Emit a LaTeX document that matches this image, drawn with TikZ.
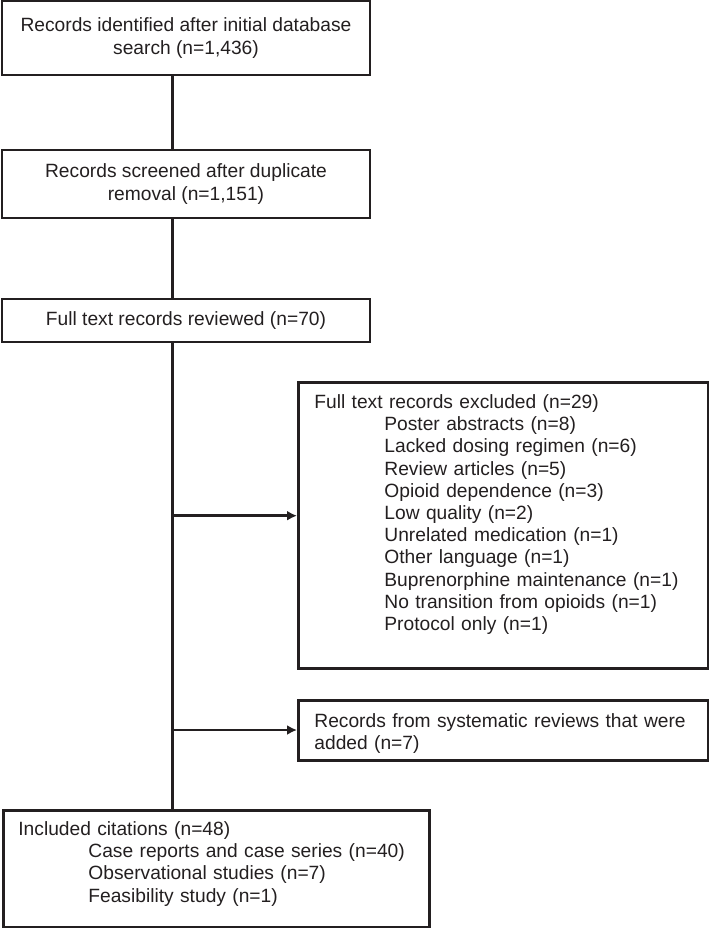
\documentclass[tikz,border=0pt]{standalone}
\usepackage{fontspec}
\setmainfont{Liberation Sans}
\usetikzlibrary{arrows.meta}
\definecolor{encre}{HTML}{231F20}
\newcommand{\retrait}{\hspace*{52.5pt}}
\tikzset{
  boite/.style = {rectangle, draw=encre, text=encre, line width=2.1pt,
    inner sep=0pt, font=\fontsize{14.4pt}{16.65pt}\selectfont},% cadre commun
  boite_c/.style = {boite, align=center, minimum width=276pt},% texte centre
  boite_g/.style = {boite, align=left, anchor=north west,
    inner xsep=12pt, text width=283.5pt},% texte a gauche
  lien/.style = {draw=encre, line width=2.1pt}% traits de liaison
}

\begin{document}
\begin{tikzpicture}[x=0.75pt, y=-0.75pt, >={Latex[length=7.5pt,width=7.5pt]}]
\useasboundingbox (0,0) rectangle (709,928);
\node [boite_c, minimum height=55.5pt] (ident) at (186,38)
  {Records identified after initial database\\search (n=1,436)};
\node [boite_c, minimum height=51pt] (tri) at (186,184)
  {Records screened after duplicate\\removal (n=1,151)};
\node [boite_c, minimum height=32.25pt] (lu) at (186,320.5)
  {Full text records reviewed (n=70)};
\node [boite_g, text height=19.5pt, text depth=195pt] (exclu) at (297,381)
  {Full text records excluded (n=29)\\
   \retrait Poster abstracts (n=8)\\
   \retrait Lacked dosing regimen (n=6)\\
   \retrait Review articles (n=5)\\
   \retrait Opioid dependence (n=3)\\
   \retrait Low quality (n=2)\\
   \retrait Unrelated medication (n=1)\\
   \retrait Other language (n=1)\\
   \retrait Buprenorphine maintenance (n=1)\\
   \retrait No transition from opioids (n=1)\\
   \retrait Protocol only (n=1)};
\node [boite_g, text height=20.25pt, text depth=24.75pt] (ajout) at (297,699)
  {Records from systematic reviews that were\\added (n=7)};
\node [boite_g, inner xsep=11.25pt, text width=297pt,
  text height=18.75pt, text depth=69pt] (inclus) at (2,809)
  {Included citations (n=48)\\
   \retrait Case reports and case series (n=40)\\
   \retrait Observational studies (n=7)\\
   \retrait Feasibility study (n=1)};

% tronc vertical et branches
\coordinate (tronc) at (172.7,0);
\coordinate (j_exclu) at (172.7,515.7);
\coordinate (j_ajout) at (172.7,730);
\draw [lien] (ident.south -| tronc) -- (tri.north -| tronc);
\draw [lien] (tri.south -| tronc) -- (lu.north -| tronc);
\draw [lien] (lu.south -| tronc) -- (inclus.north -| tronc);
\draw [lien, ->] (j_exclu) -- (j_exclu -| exclu.west);
\draw [lien, ->] (j_ajout) -- (j_ajout -| ajout.west);
\end{tikzpicture}
\end{document}
